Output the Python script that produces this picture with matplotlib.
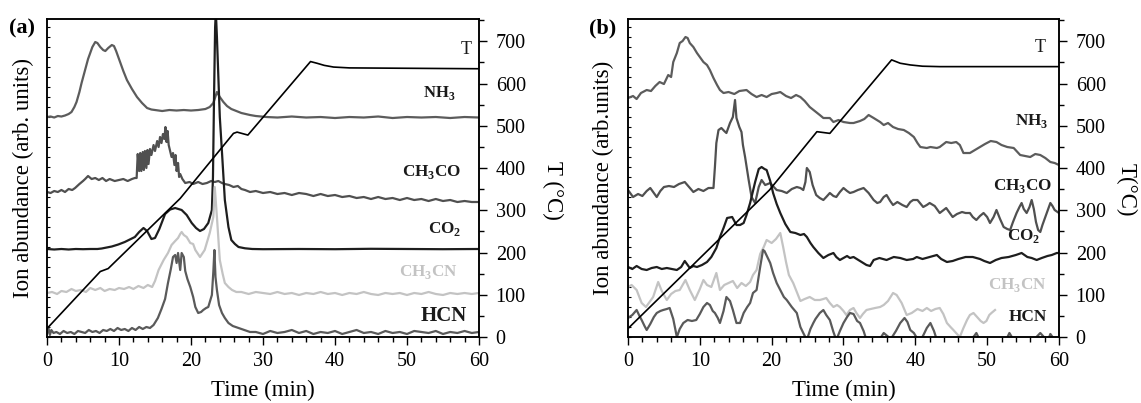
import numpy as np
import matplotlib
matplotlib.use("Agg")
import matplotlib.pyplot as plt
from matplotlib.ticker import MultipleLocator

plt.rcParams['font.family'] = ['Liberation Serif', 'DejaVu Serif']
plt.rcParams['mathtext.fontset'] = 'custom'
plt.rcParams['mathtext.rm'] = 'Liberation Serif'
plt.rcParams['mathtext.bf'] = 'Liberation Serif:bold'

# ---------------- panel (a): (time [min], ion abundance [arb.]) ----------------
nh3_a = [(0, 22.0), (0.5, 22.05), (1, 21.95), (1.5, 22.1), (2, 22.05), (2.5, 22.15), (3, 22.3),
         (3.4, 22.5), (3.8, 23.0), (4.1, 23.5), (4.5, 24.5), (4.8, 25.4), (5.1, 26.2), (5.4, 27.0),
         (5.7, 27.8), (6.0, 28.4), (6.3, 29.0), (6.7, 29.5), (7.0, 29.4), (7.4, 29.0), (7.8, 28.7),
         (8.1, 28.6), (8.5, 28.9), (9.0, 29.2), (9.3, 29.1), (9.6, 28.6), (10.1, 27.6), (10.6, 26.6),
         (11.1, 25.7), (11.8, 24.8), (12.5, 24.0), (13.2, 23.4), (13.9, 22.9), (14.5, 22.75),
         (15, 22.7), (16, 22.6), (17, 22.7), (18, 22.65), (19, 22.7), (20, 22.65), (21, 22.7),
         (22, 22.8), (22.6, 23.0), (23.1, 23.4), (23.6, 24.5), (24.0, 24.0), (24.5, 23.5),
         (25.0, 23.1), (25.6, 22.8), (26.3, 22.6), (27, 22.4), (28.2, 22.2), (29, 22.1),
         (30.5, 22.0), (32, 21.95), (34, 22.05), (36, 21.95), (38, 22.0), (40, 21.9), (42, 22.0),
         (44, 21.95), (46, 22.05), (48, 21.9), (50, 22.0), (52, 21.95), (54, 22.0), (56, 21.9),
         (58, 22.0), (60, 21.95)]

ch3co_a = [(0, 14.5), (0.5, 14.4), (1, 14.6), (1.5, 14.5), (2, 14.7), (2.5, 14.5), (3, 14.8),
           (3.5, 14.7), (3.9, 14.9), (4.5, 15.3), (5.0, 15.6), (5.3, 15.8), (5.7, 16.1), (6.2, 15.8),
           (6.7, 15.9), (7.2, 15.7), (7.7, 15.9), (8.2, 15.6), (8.7, 15.8), (9.4, 15.6), (10, 15.7),
           (10.6, 15.8), (11.2, 15.6), (11.8, 15.8), (12.2, 15.9), (12.45, 15.9), (12.6, 18.3),
           (12.8, 16.6), (12.95, 18.4), (13.1, 16.6), (13.3, 18.5), (13.45, 16.7), (13.6, 18.6),
           (13.8, 16.9), (13.95, 18.7), (14.1, 17.3), (14.3, 18.8), (14.5, 18.2), (14.8, 19.2),
           (15.0, 18.6), (15.3, 19.6), (15.5, 19.0), (15.7, 20.0), (15.9, 19.4), (16.1, 20.3),
           (16.3, 19.8), (16.45, 21.0), (16.6, 19.5), (16.75, 20.6), (16.9, 19.2), (17.1, 18.6),
           (17.3, 18.0), (17.5, 18.4), (17.7, 17.2), (17.85, 18.2), (18.0, 16.6), (18.2, 17.4),
           (18.35, 16.0), (18.5, 16.3), (18.8, 15.8), (19.2, 15.4), (19.8, 15.5), (20.3, 15.3),
           (21, 15.5), (21.6, 15.3), (22.2, 15.4), (22.8, 15.6), (23.3, 15.5), (23.8, 15.6),
           (24.3, 15.4), (24.7, 15.3), (25.3, 15.2), (25.9, 15.0), (26.5, 15.1), (27.0, 14.8),
           (27.5, 14.7), (28.2, 14.5), (29, 14.6), (30, 14.4), (31, 14.5), (32, 14.3), (33, 14.4),
           (34, 14.2), (35, 14.4), (36, 14.3), (37, 14.1), (38, 14.3), (39, 14.1), (40, 14.2),
           (41, 14.0), (42, 14.1), (43, 13.9), (44, 14.0), (45, 13.8), (46, 14.0), (47, 13.8),
           (48, 13.9), (49, 13.7), (50, 13.9), (51, 13.7), (52, 13.8), (53, 13.6), (54, 13.8),
           (55, 13.6), (56, 13.7), (57, 13.5), (58, 13.6), (59, 13.5), (60, 13.5)]

co2_a = [(0, 8.8), (1, 8.75), (2, 8.8), (3, 8.75), (4, 8.8), (5, 8.78), (6, 8.8), (7, 8.8),
         (7.6, 8.85), (8.3, 8.95), (9.0, 9.05), (9.9, 9.25), (10.8, 9.5), (11.5, 9.75), (12.2, 10.0),
         (12.8, 10.5), (13.4, 10.9), (13.9, 10.6), (14.5, 9.8), (15.0, 9.9), (15.6, 10.8),
         (16.4, 12.3), (17.1, 12.75), (17.8, 12.9), (18.7, 12.7), (19.4, 12.2), (20.1, 11.4),
         (20.7, 10.9), (21.25, 10.6), (21.8, 10.8), (22.4, 11.4), (22.9, 12.7), (23.05, 16.0),
         (23.2, 24.0), (23.35, 31.0), (23.45, 32.5), (23.6, 30.0), (23.8, 26.0), (24.0, 22.0),
         (24.3, 18.5), (24.7, 13.7), (25.2, 11.0), (25.6, 9.7), (26.1, 9.3), (26.6, 9.0),
         (27.5, 8.87), (28.5, 8.8), (30, 8.78), (35, 8.8), (40, 8.78), (45, 8.82), (50, 8.8),
         (55, 8.78), (60, 8.8)]

ch3cn_a = [(0, 4.4), (0.7, 4.5), (1.4, 4.3), (2, 4.6), (2.7, 4.5), (3.4, 4.8), (4, 4.6), (4.7, 4.7),
           (5.4, 4.5), (6, 4.9), (6.7, 4.7), (7.4, 4.9), (8, 4.6), (8.7, 4.8), (9.4, 4.7), (10, 4.9),
           (10.7, 4.8), (11.4, 5.0), (12, 4.8), (12.7, 5.1), (13.4, 4.9), (14, 5.2), (14.6, 5.0),
           (15.0, 5.6), (15.5, 6.7), (16.2, 7.7), (16.8, 8.4), (17.3, 9.2), (17.8, 9.6), (18.2, 9.9),
           (18.5, 10.3), (18.7, 10.5), (19.0, 10.2), (19.4, 10.0), (19.9, 9.4), (20.3, 9.3),
           (20.6, 8.7), (21.25, 8.0), (21.9, 8.7), (22.6, 10.4), (23.1, 12.0), (23.3, 15.0),
           (23.6, 12.0), (24.0, 7.7), (24.4, 6.3), (24.7, 5.4), (25.2, 5.0), (25.7, 4.7),
           (26.3, 4.5), (27, 4.5), (28, 4.3), (29, 4.5), (30, 4.4), (31, 4.3), (32, 4.5), (33, 4.3),
           (34, 4.4), (35, 4.2), (36, 4.4), (37, 4.3), (38, 4.5), (39, 4.3), (40, 4.4), (41, 4.2),
           (42, 4.4), (43, 4.3), (44, 4.5), (45, 4.3), (46, 4.2), (47, 4.4), (48, 4.3), (49, 4.4),
           (50, 4.2), (51, 4.4), (52, 4.3), (53, 4.5), (54, 4.3), (55, 4.2), (56, 4.4), (57, 4.3),
           (58, 4.4), (59, 4.3), (60, 4.4)]

hcn_a = [(0, 0.3), (0.2, 0.9), (0.4, 0.2), (0.6, 0.7), (0.9, 0.4), (1.3, 0.5), (1.8, 0.3),
         (2.3, 0.6), (2.8, 0.4), (3.3, 0.5), (3.8, 0.3), (4.3, 0.6), (4.8, 0.5), (5.3, 0.4),
         (5.8, 0.7), (6.3, 0.5), (6.8, 0.6), (7.3, 0.4), (7.8, 0.7), (8.3, 0.6), (8.8, 0.8),
         (9.3, 0.6), (9.8, 0.9), (10.3, 0.7), (10.8, 0.8), (11.3, 0.6), (11.8, 0.9), (12.3, 0.7),
         (12.8, 1.0), (13.3, 0.8), (13.8, 1.0), (14.3, 0.9), (14.8, 1.2), (15.4, 1.9), (15.9, 2.8),
         (16.4, 3.8), (16.8, 5.4), (17.2, 6.8), (17.5, 8.0), (17.8, 8.2), (18.0, 7.4), (18.2, 8.4),
         (18.5, 6.7), (18.7, 8.4), (19.0, 8.0), (19.2, 6.6), (19.5, 5.8), (19.9, 5.0), (20.3, 4.0),
         (20.6, 3.0), (21.0, 2.4), (21.4, 2.5), (21.7, 2.7), (22.1, 2.9), (22.4, 3.0), (22.9, 4.2),
         (23.1, 6.5), (23.25, 8.7), (23.4, 6.0), (23.6, 4.7), (23.9, 3.2), (24.3, 2.4), (24.7, 1.9),
         (25.2, 1.4), (25.8, 1.1), (26.6, 0.9), (27.4, 0.7), (28.2, 0.5), (29, 0.5), (30, 0.3),
         (31, 0.6), (32, 0.4), (33, 0.5), (34, 0.7), (35, 0.4), (36, 0.6), (37, 0.3), (38, 0.5),
         (39, 0.4), (40, 0.6), (41, 0.3), (42, 0.5), (43, 0.7), (44, 0.4), (45, 0.5), (46, 0.3),
         (47, 0.6), (48, 0.4), (49, 0.5), (50, 0.3), (51, 0.6), (52, 0.5), (53, 0.4), (54, 0.6),
         (55, 0.3), (56, 0.5), (57, 0.4), (58, 0.6), (59, 0.4), (60, 0.5)]

# furnace temperature (°C)
temp_a = [(0, 20), (7.4, 155), (8.5, 162), (18.5, 328), (25.9, 482), (26.4, 485), (27.9, 478),
          (36.6, 652), (37.5, 648), (38.5, 643), (39.8, 639), (42, 637), (60, 635)]

# ---------------- panel (b) ----------------
nh3_b = [(0, 23.9), (0.7, 24.1), (1.2, 23.8), (1.8, 24.4), (2.6, 24.7), (3.2, 24.6), (3.8, 25.1),
         (4.4, 25.5), (5.0, 25.3), (5.6, 26.2), (6.0, 26.0), (6.3, 27.5), (6.8, 28.4), (7.2, 29.4),
         (7.6, 29.6), (8.0, 30.0), (8.3, 29.9), (8.6, 29.4), (9.1, 29.0), (9.6, 28.4), (10.0, 28.0),
         (10.5, 27.5), (11.0, 27.2), (11.4, 26.7), (11.9, 25.9), (12.4, 25.2), (12.8, 24.7),
         (13.3, 24.4), (14.0, 24.5), (14.8, 24.3), (15.5, 24.6), (16.5, 24.7), (17.2, 24.3),
         (17.9, 24.0), (18.6, 24.2), (19.3, 24.0), (20.0, 24.3), (20.7, 24.4), (21.2, 24.5),
         (22.0, 24.1), (22.7, 23.9), (23.4, 24.2), (24.0, 24.0), (24.6, 23.6), (25.3, 23.0),
         (26.0, 22.6), (26.7, 22.2), (27.2, 21.9), (28.1, 21.9), (28.6, 21.5), (29.3, 21.7),
         (30.0, 21.5), (30.9, 21.4), (31.4, 21.4), (32.3, 21.6), (32.9, 21.8), (33.5, 22.2),
         (34.2, 21.9), (35.1, 21.5), (35.6, 21.2), (36.2, 21.4), (36.9, 21.0), (37.6, 20.8),
         (38.4, 20.7), (39.1, 20.4), (39.8, 20.0), (40.3, 19.4), (40.7, 19.0), (41.6, 18.9),
         (42.1, 19.0), (43.0, 18.9), (43.4, 19.0), (44.3, 19.5), (45.0, 19.4), (45.7, 19.5),
         (46.2, 19.2), (46.7, 18.4), (47.6, 18.4), (48.3, 18.7), (49.0, 19.0), (49.7, 19.3),
         (50.5, 19.6), (51.3, 19.5), (52.0, 19.2), (52.8, 19.0), (53.7, 18.9), (54.6, 18.2),
         (55.3, 18.1), (56.0, 18.0), (56.7, 18.3), (57.4, 18.2), (58.1, 17.9), (58.8, 17.5),
         (59.4, 17.4), (60, 17.2)]

ch3co_b = [(0, 14.7), (0.7, 14.0), (1.4, 14.3), (2.0, 14.1), (2.6, 14.6), (3.1, 14.9), (3.6, 14.4),
           (4.0, 14.0), (4.5, 14.6), (5.0, 15.0), (5.7, 15.1), (6.4, 15.0), (7.1, 15.3), (7.9, 15.5),
           (8.5, 15.0), (9.1, 14.5), (9.8, 14.8), (10.5, 14.6), (11.2, 14.9), (11.9, 14.9),
           (12.1, 17.0), (12.3, 19.4), (12.6, 20.7), (13.0, 20.9), (13.4, 20.6), (13.7, 20.4),
           (14.2, 21.4), (14.6, 22.0), (14.9, 23.7), (15.1, 21.9), (15.5, 21.0), (15.8, 20.5),
           (16.0, 19.2), (16.3, 18.0), (16.8, 15.7), (17.2, 14.0), (17.7, 13.4), (18.2, 15.0),
           (18.6, 15.7), (19.1, 15.2), (19.8, 15.4), (20.3, 15.0), (20.7, 14.7), (21.4, 14.6),
           (22.1, 14.4), (22.8, 14.8), (23.5, 15.0), (24.0, 14.9), (24.4, 14.7), (24.7, 15.5),
           (24.9, 16.9), (25.3, 16.5), (25.7, 15.2), (26.2, 14.2), (26.7, 13.9), (27.2, 13.7),
           (27.6, 14.0), (28.1, 14.4), (28.6, 14.1), (29.0, 14.0), (29.5, 14.5), (30.0, 14.9),
           (30.5, 14.6), (30.9, 14.4), (31.4, 14.5), (32.0, 14.7), (32.8, 14.9), (33.5, 14.4),
           (34.2, 13.7), (34.7, 13.4), (35.1, 13.5), (35.6, 14.0), (36.0, 14.2), (36.5, 13.6),
           (36.9, 13.2), (37.5, 13.5), (38.2, 13.2), (38.8, 13.0), (39.3, 13.5), (39.7, 13.7),
           (40.3, 13.7), (41.1, 13.0), (41.6, 13.2), (42.0, 13.4), (42.7, 13.1), (43.4, 12.4),
           (44.3, 12.9), (44.8, 12.4), (45.2, 12.0), (45.8, 12.3), (46.5, 12.5), (47.0, 12.4),
           (47.6, 12.4), (48.0, 12.0), (48.5, 11.7), (49.0, 12.1), (49.5, 12.4), (50.0, 12.0),
           (50.4, 11.4), (50.9, 12.0), (51.3, 12.7), (51.8, 11.8), (52.3, 11.0), (52.8, 10.8),
           (53.2, 10.7), (53.6, 11.5), (54.1, 12.4), (54.5, 13.0), (54.8, 13.4), (55.1, 12.8),
           (55.5, 12.4), (55.9, 13.0), (56.2, 13.7), (56.5, 12.8), (56.8, 11.5), (57.1, 10.7),
           (57.4, 10.5), (57.7, 11.2), (58.1, 12.0), (58.5, 12.8), (58.8, 13.4), (59.1, 13.1),
           (59.4, 12.7), (60.0, 12.4)]

co2_b = [(0, 7.0), (0.6, 6.8), (1.2, 7.1), (1.9, 6.8), (2.6, 6.7), (3.3, 6.9), (4.0, 7.0),
         (4.7, 6.8), (5.4, 6.9), (6.1, 6.8), (6.8, 6.7), (7.4, 7.0), (7.9, 7.6), (8.3, 7.2),
         (8.6, 6.9), (9.1, 7.1), (9.6, 7.0), (10.3, 7.2), (11.0, 7.5), (11.6, 8.0), (12.3, 8.9),
         (12.8, 10.0), (13.3, 10.9), (13.8, 11.9), (14.5, 12.0), (15.1, 11.2), (15.6, 11.2),
         (16.1, 11.4), (16.5, 12.2), (17.0, 13.4), (17.7, 15.5), (18.2, 16.8), (18.6, 17.0),
         (19.0, 16.8), (19.3, 16.7), (19.8, 15.6), (20.2, 14.4), (20.7, 13.3), (21.2, 12.4),
         (21.9, 11.3), (22.6, 10.5), (23.3, 10.4), (24.0, 10.2), (24.5, 10.3), (24.9, 10.0),
         (25.4, 9.4), (25.8, 9.0), (26.5, 8.4), (27.2, 7.9), (27.9, 8.2), (28.6, 8.4), (29.0, 8.0),
         (29.5, 7.7), (30.0, 7.9), (30.5, 8.1), (30.9, 7.9), (31.4, 8.0), (32.3, 7.6), (33.2, 7.2),
         (33.7, 7.1), (34.2, 7.7), (35.0, 7.9), (36.0, 7.7), (37.0, 8.0), (37.9, 7.9), (38.8, 7.7),
         (39.7, 7.8), (40.2, 8.0), (41.0, 7.8), (42.0, 8.0), (43.0, 8.2), (43.6, 7.8), (44.4, 7.5),
         (45.2, 7.6), (46.0, 7.8), (47.0, 8.0), (48.0, 8.0), (49.0, 7.8), (49.6, 7.6), (50.4, 7.4),
         (51.2, 7.7), (52.0, 7.9), (53.0, 8.0), (54.0, 8.2), (54.8, 8.4), (55.6, 8.0), (56.2, 7.9),
         (56.9, 7.7), (57.6, 7.9), (58.4, 8.1), (59.0, 8.2), (59.7, 8.4), (60, 8.4)]

ch3cn_b = [(0, 5.0), (0.5, 5.2), (1.2, 4.7), (1.9, 3.4), (2.5, 3.0), (3.0, 3.5), (3.5, 4.0),
           (4.2, 5.5), (4.7, 4.6), (5.4, 3.7), (6.0, 4.3), (6.6, 4.6), (7.2, 4.7), (8.0, 5.7),
           (8.6, 4.7), (9.3, 3.7), (10.0, 4.8), (10.5, 5.7), (11.0, 5.2), (11.6, 5.0), (12.3, 6.4),
           (12.8, 4.7), (13.4, 5.2), (14.0, 5.4), (14.6, 5.6), (15.2, 4.9), (15.8, 5.4), (16.4, 5.1),
           (17.0, 5.5), (17.4, 6.2), (17.9, 6.7), (18.4, 8.3), (18.9, 9.0), (19.3, 9.7), (20.0, 9.4),
           (20.6, 9.8), (21.2, 10.4), (21.6, 9.0), (22.0, 7.5), (22.4, 6.2), (23.0, 5.4), (23.5, 4.5),
           (24.0, 3.6), (24.6, 3.8), (25.3, 4.0), (26.0, 3.7), (26.7, 3.7), (27.2, 3.8), (27.6, 3.9),
           (28.1, 3.4), (28.6, 3.0), (29.1, 3.2), (29.5, 3.0), (30.0, 2.6), (30.4, 2.2), (30.9, 2.7),
           (31.4, 2.9), (31.8, 2.4), (32.3, 1.9), (32.7, 2.3), (33.2, 2.7), (33.8, 2.8), (34.4, 2.9),
           (35.1, 3.0), (35.6, 3.2), (36.2, 3.6), (36.9, 4.4), (37.4, 4.2), (38.1, 3.4), (38.8, 2.2),
           (39.5, 2.4), (40.3, 2.8), (41.0, 2.6), (41.6, 2.9), (42.2, 2.6), (42.8, 2.8), (43.4, 2.9),
           (43.9, 2.3), (44.4, 1.4), (44.9, 1.0), (45.3, 0.7), (45.8, 0.3), (46.2, 0.0), (46.7, 0.9),
           (47.2, 1.7), (47.6, 2.2), (48.1, 2.4), (48.6, 2.0), (49.1, 1.6), (49.5, 1.4), (49.9, 1.6),
           (50.3, 2.2), (50.6, 2.4), (51.1, 2.7)]

hcn_b = [(0, 1.9), (0.6, 2.2), (1.2, 2.7), (1.6, 2.1), (1.9, 1.7), (2.3, 1.1), (2.6, 0.7), (3.1, 1.3),
         (3.6, 2.0), (4.0, 2.4), (4.5, 2.6), (4.9, 2.7), (5.4, 2.8), (5.8, 2.9), (6.3, 1.8),
         (6.8, 0.0), (7.2, 0.8), (7.7, 1.4), (8.3, 1.7), (8.9, 1.6), (9.5, 1.7), (10.0, 2.3),
         (10.5, 3.0), (11.0, 3.4), (11.4, 3.2), (11.8, 2.6), (12.1, 2.4), (12.5, 1.9), (12.8, 1.4),
         (13.3, 2.6), (13.7, 4.0), (14.2, 3.6), (14.6, 2.7), (15.1, 1.4), (15.6, 1.4), (16.1, 2.4),
         (16.6, 3.0), (17.0, 3.4), (17.4, 4.4), (17.9, 4.7), (18.4, 7.0), (18.8, 8.7), (19.0, 8.6),
         (19.4, 8.0), (19.8, 7.4), (20.2, 6.4), (20.7, 5.4), (21.2, 4.7), (21.7, 4.0), (22.1, 3.7),
         (22.8, 3.0), (23.5, 2.4), (24.0, 1.0), (24.4, 0.4), (24.9, -0.3), (25.4, 0.8), (25.8, 1.4),
         (26.1, 1.8), (26.7, 2.4), (27.2, 2.7), (27.6, 2.2), (28.1, 1.7), (28.6, 0.5), (29.0, -0.3),
         (29.5, 0.6), (30.0, 1.4), (30.5, 2.0), (30.9, 2.4), (31.4, 2.3), (31.9, 1.6), (32.3, 1.4),
         (32.8, 0.6), (33.2, -0.3), (33.6, -0.5), (34.2, -0.3), (34.8, -0.5), (35.6, 0.4),
         (36.1, 0.1), (36.6, -0.2), (37.3, 0.6), (37.9, 1.4), (38.5, 1.9), (38.9, 1.5), (39.3, 0.7),
         (39.8, 0.4), (40.3, -0.2), (40.7, -0.4), (41.2, 0.3), (41.6, 0.9), (42.1, 1.4), (42.6, 0.6),
         (43.0, -0.3), (43.6, -0.5), (44.5, -0.4), (45.5, -0.5), (46.5, -0.3), (47.5, -0.4),
         (48.2, 0.1), (48.5, 0.4), (48.9, -0.2), (49.5, -0.5), (50.5, -0.4), (51.5, -0.3),
         (52.5, -0.5), (53.1, 0.4), (53.6, -0.2), (54.5, -0.5), (55.5, -0.4), (56.5, -0.3),
         (57.0, 0.1), (57.4, 0.4), (57.9, 0.0), (58.5, -0.3), (58.8, 0.3), (59.2, -0.1), (60, -0.4)]

temp_b = [(0, 20), (19.7, 348), (26.3, 486), (28.1, 482), (36.7, 656), (37.9, 648), (39.3, 644),
          (41.0, 641), (43.4, 640), (60, 640)]

# ---------------- styling ----------------
species = ["NH3", "CH3CO", "CO2", "CH3CN", "HCN"]
line_colors = {"NH3": "#5c5c5c", "CH3CO": "#505050", "CO2": "#1e1e1e",
               "CH3CN": "#c3c3c3", "HCN": "#5a5a5a"}
label_colors = {"NH3": "#1a1a1a", "CH3CO": "#1a1a1a", "CO2": "#1a1a1a",
                "CH3CN": "#c3c3c3", "HCN": "#1a1a1a"}
label_text = {"NH3": r"NH$_\mathbf{3}$", "CH3CO": r"CH$_\mathbf{3}$CO", "CO2": r"CO$_\mathbf{2}$",
              "CH3CN": r"CH$_\mathbf{3}$CN", "HCN": "HCN"}

panels = [
    dict(tag="(a)", left=0.0412, width=0.3786,
         curves={"NH3": nh3_a, "CH3CO": ch3co_a, "CO2": co2_a, "CH3CN": ch3cn_a, "HCN": hcn_a},
         temp=temp_a,
         labels={"NH3": (56.7, 24.4, 12), "CH3CO": (57.6, 16.5, 12.3), "CO2": (57.6, 10.8, 12.3),
                 "CH3CN": (57.1, 6.5, 12.3), "HCN": (58.3, 2.1, 15)},
         tlabel=(59.0, 28.8), ylabel="Ion abundance (arb. units)", rlabel="T (°C)",
         ylabel_x=-0.054, rlabel_x=1.171),
    dict(tag="(b)", left=0.5504, width=0.3777,
         curves={"NH3": nh3_b, "CH3CO": ch3co_b, "CO2": co2_b, "CH3CN": ch3cn_b, "HCN": hcn_b},
         temp=temp_b,
         labels={"NH3": (58.5, 21.6, 12.3), "CH3CO": (59.0, 15.1, 12.3), "CO2": (57.4, 10.1, 12.3),
                 "CH3CN": (58.3, 5.2, 12.3), "HCN": (58.3, 2.0, 12.4)},
         tlabel=(58.2, 29.0), ylabel="Ion abundance (arb.units)", rlabel="T(°C)",
         ylabel_x=-0.056, rlabel_x=1.157),
]

fig = plt.figure(figsize=(11.41, 4.03), dpi=100)
bottom, height = 0.1638, 0.789
ION_MAX = 31.8
T_MAX = 752.7

for p in panels:
    ax = fig.add_axes([p["left"], bottom, p["width"], height])
    ax2 = ax.twinx()

    for name in species:
        data = np.array(p["curves"][name])
        ax.plot(data[:, 0], data[:, 1], color=line_colors[name], lw=1.6, solid_joinstyle="round")
    tdata = np.array(p["temp"])
    ax2.plot(tdata[:, 0], tdata[:, 1], color="black", lw=1.2)

    ax.set_xlim(0, 60)
    ax.set_ylim(0, ION_MAX)
    ax2.set_ylim(0, T_MAX)

    ax.xaxis.set_major_locator(MultipleLocator(10))
    ax.xaxis.set_minor_locator(MultipleLocator(2))
    ax.yaxis.set_major_locator(MultipleLocator(1))
    ax.yaxis.set_minor_locator(plt.NullLocator())
    ax.tick_params(axis="x", which="major", direction="out", length=6, width=1.0,
                   labelsize=14.5, pad=5, top=False)
    ax.tick_params(axis="x", which="minor", direction="out", length=3.5, width=1.0, top=False)
    ax.tick_params(axis="y", which="major", direction="in", length=2.5, width=0.8,
                   labelleft=False, right=False)

    ax2.yaxis.set_major_locator(MultipleLocator(100))
    ax2.yaxis.set_minor_locator(MultipleLocator(50))
    ax2.tick_params(axis="y", which="major", direction="out", length=6, width=1.0,
                    labelsize=14.5, pad=6)
    ax2.tick_params(axis="y", which="minor", direction="out", length=3.5, width=1.0)

    for a in (ax, ax2):
        for s in a.spines.values():
            s.set_linewidth(1.1)

    for name, (tx, ty, fs) in p["labels"].items():
        ax.text(tx, ty, label_text[name], ha="right", va="center", fontsize=fs,
                fontweight="bold", color=label_colors[name])
    ax.text(p["tlabel"][0], p["tlabel"][1], "T", ha="right", va="center", fontsize=13,
            color="#1a1a1a")

    ax.set_xlabel("Time (min)", fontsize=16.5, labelpad=6)
    ax.text(p["ylabel_x"], 0.5, p["ylabel"], transform=ax.transAxes, rotation=90,
            ha="center", va="center", fontsize=16.5)
    ax.text(p["rlabel_x"], 0.462, p["rlabel"], transform=ax.transAxes, rotation=270,
            ha="center", va="center", fontsize=16.5)
    ax.text(-0.058, 0.97, p["tag"], transform=ax.transAxes, ha="center", va="center",
            fontsize=16, fontweight="bold")

fig.savefig("out.png", dpi=100)
